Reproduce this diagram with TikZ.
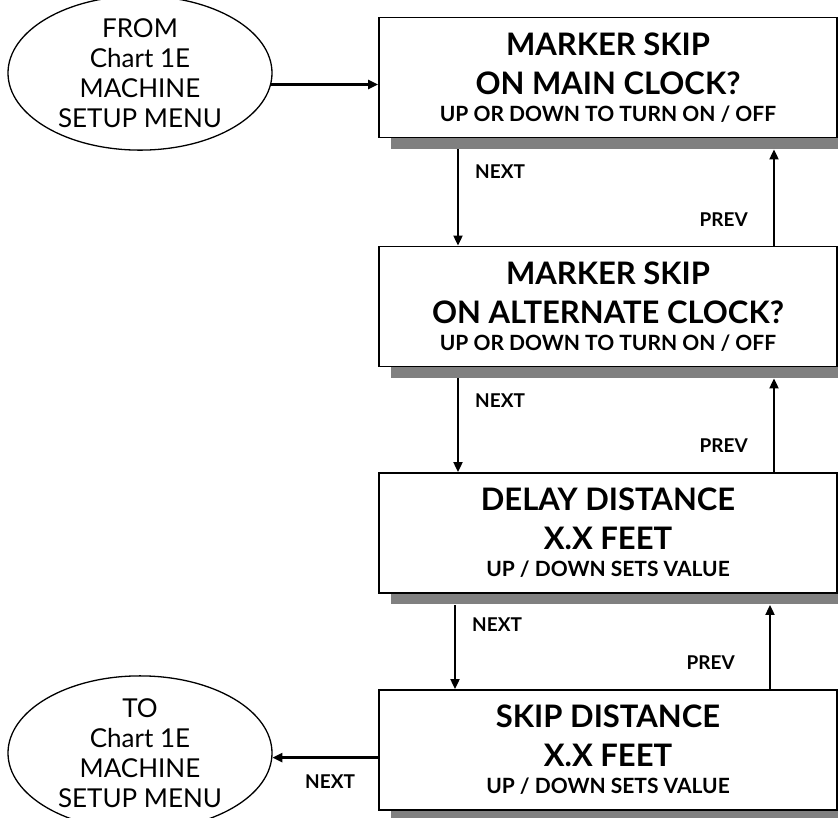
\documentclass[tikz,border=0pt]{standalone}
\usepackage{fontspec}
\setmainfont{Lato}
\usetikzlibrary{arrows.meta, shapes.geometric, shadows, calc}
\newcommand{\screenhint}[1]{{\fontsize{21}{24}\selectfont #1}}
\newcommand{\menustep}[4]
{
	\draw[flow] ([xshift=#3, yshift=-11pt]#1.south) -- ([xshift=#3]#2.north);
	\draw[flow] ([xshift=#4]#2.north) -- ([xshift=#4, yshift=-11pt]#1.south);
}

\begin{document}
\begin{tikzpicture}[x=1pt, y=-1pt,
	screen/.style={draw=black, fill=white, line width=1.8pt,
		minimum width=458pt, minimum height=120pt, inner sep=0pt,
		align=center, font=\fontsize{31}{39}\selectfont\bfseries,
		drop shadow={shadow xshift=12pt, shadow yshift=-11pt, fill=black!50, opacity=1}},
	chart/.style={ellipse, draw=black, line width=1.3pt,
		minimum width=264pt, minimum height=150pt, inner sep=0pt,
		align=center, font=\fontsize{26}{30}\selectfont},
	key/.style={inner sep=0pt, font=\fontsize{19}{20}\selectfont\bfseries},
	flow/.style={line width=1.9pt, -{Triangle[length=10pt, width=9pt]}}]

	\useasboundingbox (0, 0) rectangle (838, 817);

	% menu screens
	\node[screen] at (608, 77.5) (MS1){MARKER SKIP\\ON MAIN CLOCK?\\[-12pt]\screenhint{UP OR DOWN TO TURN ON / OFF}};
	\node[screen] at (608, 306.5) (MS2){MARKER SKIP\\ON ALTERNATE CLOCK?\\[-12pt]\screenhint{UP OR DOWN TO TURN ON / OFF}};
	\node[screen] at (608, 533) (DD){DELAY DISTANCE\\X.X FEET\\[-12pt]\screenhint{UP / DOWN SETS VALUE}};
	\node[screen] at (608, 750) (SD){SKIP DISTANCE\\X.X FEET\\[-12pt]\screenhint{UP / DOWN SETS VALUE}};

	% links to chart 1E
	\node[chart] at (140, 73) (FROM){FROM\\Chart 1E\\MACHINE\\SETUP MENU};
	\node[chart] at (140, 753) (TO){TO\\Chart 1E\\MACHINE\\SETUP MENU};

	\draw[flow, line width=2.4pt] (FROM.-5) -- (FROM.-5 -| MS1.west);
	\draw[flow, line width=2.4pt] (SD.west |- TO.-2) -- (TO.-2);

	\menustep{MS1}{MS2}{-150pt}{166pt};
	\menustep{MS2}{DD}{-150pt}{166pt};
	\menustep{DD}{SD}{-153pt}{162pt};

	\node[key, anchor=west] at (475, 172) (N1){NEXT};
	\node[key, anchor=east] at (748, 220) (P1){PREV};
	\node[key, anchor=west] at (475, 401) (N2){NEXT};
	\node[key, anchor=east] at (748, 446) (P2){PREV};
	\node[key, anchor=west] at (472, 625) (N3){NEXT};
	\node[key, anchor=east] at (735, 663) (P3){PREV};
	\node[key, anchor=west] at (305, 782) (N4){NEXT};
\end{tikzpicture}
\end{document}
